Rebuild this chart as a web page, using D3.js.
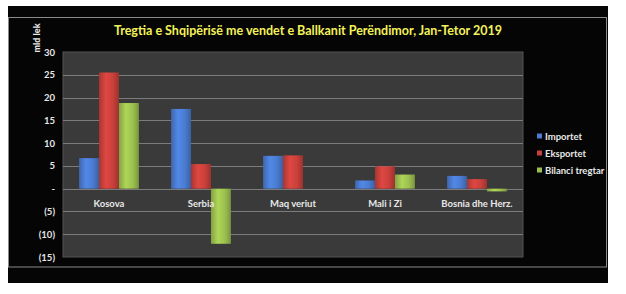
<!DOCTYPE html>
<html>
<head>
<meta charset="utf-8">
<script src="https://cdn.jsdelivr.net/npm/d3@7"></script>
<style>
  body { margin: 0; background: #fff; }
  svg { display: block; }
</style>
</head>
<body>
<div id="chart"></div>
<script>
const categories = ["Kosova", "Serbia", "Maq veriut", "Mali i Zi", "Bosnia dhe Herz."];
const seriesNames = ["Importet", "Eksportet", "Bilanci tregtar"];
const importet = [6.7, 17.5, 7.2, 1.8, 2.8];
const eksportet = [25.5, 5.4, 7.3, 4.9, 2.1];
const bilanci = [18.8, -12.1, 0, 3.1, -0.6];
const yTicks = [30, 25, 20, 15, 10, 5, 0, -5, -10, -15];
const colors = ["#4a7bd0", "#c9403b", "#9cc04f"];

const width = 626, height = 294;
const plot = { left: 63, right: 523, top: 52, bottom: 257 };
const font = "Lato, 'Open Sans', sans-serif";

const svg = d3.select("#chart").append("svg")
  .attr("width", width)
  .attr("height", height);

// bar gradients, a bit of shine like the original
const defs = svg.append("defs");
colors.forEach((c, i) => {
  const g = defs.append("linearGradient").attr("id", "grad" + i)
    .attr("x1", 0).attr("x2", 1).attr("y1", 0).attr("y2", 0);
  const base = d3.color(c);
  g.append("stop").attr("offset", 0).attr("stop-color", base.darker(0.5));
  g.append("stop").attr("offset", 0.35).attr("stop-color", base.brighter(0.3));
  g.append("stop").attr("offset", 0.7).attr("stop-color", base);
  g.append("stop").attr("offset", 1).attr("stop-color", base.darker(0.7));
});

// black slide background and thin frame
svg.append("rect").attr("x", 8).attr("y", 6).attr("width", 600).attr("height", 277).attr("fill", "#050505");
svg.append("rect").attr("x", 8.5).attr("y", 17.5).attr("width", 598).attr("height", 249.5)
  .attr("fill", "none").attr("stroke", "#8a8a8a").attr("stroke-width", 1);

const y = d3.scaleLinear().domain([-15, 30]).range([plot.bottom, plot.top]);
const x0 = d3.scaleBand().domain(categories).range([plot.left, plot.right]).paddingInner(0.35).paddingOuter(0.175);
const x1 = d3.scaleBand().domain(seriesNames).range([0, x0.bandwidth()]);

// plot area
svg.append("rect").attr("x", plot.left).attr("y", plot.top)
  .attr("width", plot.right - plot.left).attr("height", plot.bottom - plot.top)
  .attr("fill", "#3a3a3a").attr("stroke", "#555").attr("stroke-width", 1);

svg.append("g").selectAll("line").data(yTicks.filter(d => d !== 30 && d !== -15)).join("line")
  .attr("x1", plot.left).attr("x2", plot.right)
  .attr("y1", d => Math.round(y(d)) + 0.5).attr("y2", d => Math.round(y(d)) + 0.5)
  .attr("stroke", "#7c7c7c").attr("stroke-width", 1);

const fmt = d => d === 0 ? "-" : d < 0 ? "(" + (-d) + ")" : String(d);
const yAxis = d3.axisLeft(y).tickValues(yTicks).tickFormat(fmt).tickSize(0).tickPadding(8);
svg.append("g").attr("transform", `translate(${plot.left},0)`).call(yAxis)
  .call(g => g.select(".domain").remove())
  .selectAll("text")
  .attr("fill", "#e8e8e8").style("font-family", font)
  .style("font-size", "9.5px").style("font-weight", "bold");

// bars
const rows = categories.map((c, i) => ({ cat: c, vals: [importet[i], eksportet[i], bilanci[i]] }));
const groups = svg.append("g").selectAll("g").data(rows).join("g")
  .attr("transform", d => `translate(${x0(d.cat)},0)`);
groups.selectAll("rect").data(d => d.vals.map((v, i) => ({ v, i }))).join("rect")
  .attr("x", d => x1(seriesNames[d.i]))
  .attr("width", x1.bandwidth())
  .attr("y", d => y(Math.max(0, d.v)))
  .attr("height", d => Math.abs(y(d.v) - y(0)))
  .attr("fill", d => `url(#grad${d.i})`);

// category labels
svg.append("g").selectAll("text").data(categories).join("text")
  .attr("x", d => x0(d) + x0.bandwidth() / 2)
  .attr("y", y(0) + 18)
  .attr("text-anchor", "middle")
  .attr("fill", "#e8e8e8")
  .style("font-family", font)
  .style("font-size", "9.5px").style("font-weight", "bold")
  .text(d => d);

// title
svg.append("text").attr("x", 308).attr("y", 35).attr("text-anchor", "middle")
  .attr("fill", "#f4f25a")
  .style("font-family", font)
  .style("font-size", "12.5px").style("font-weight", "bold")
  .text("Tregtia e Shqipërisë me vendet e Ballkanit Perëndimor, Jan-Tetor 2019");

// unit label
svg.append("text").attr("transform", "translate(40,38) rotate(-90)")
  .attr("text-anchor", "middle").attr("fill", "#e8e8e8")
  .style("font-family", font)
  .style("font-size", "9px").style("font-weight", "900")
  .text("mld lek");

// legend
const legend = svg.append("g").selectAll("g").data(seriesNames).join("g")
  .attr("transform", (d, i) => `translate(537,${137 + i * 17})`);
legend.append("rect").attr("x", 0).attr("y", -3.5).attr("width", 5).attr("height", 5)
  .attr("fill", (d, i) => colors[i]);
legend.append("text").attr("x", 8).attr("y", 0).attr("dy", "0.35em")
  .attr("fill", "#e8e8e8")
  .style("font-family", font)
  .style("font-size", "9.5px").style("font-weight", "bold")
  .text(d => d);
</script>
</body>
</html>
